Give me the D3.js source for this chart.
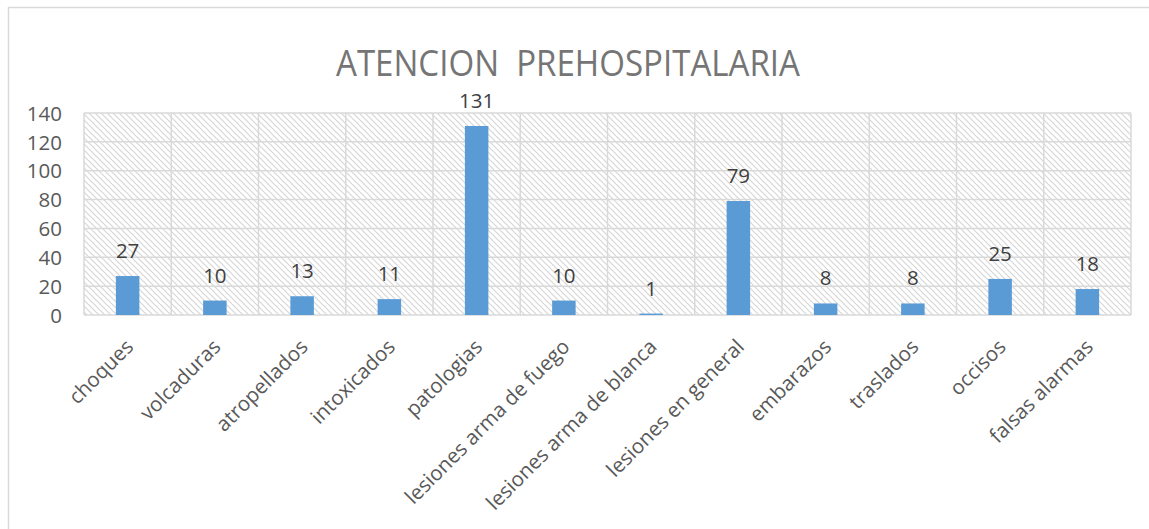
<!DOCTYPE html>
<html><head><meta charset="utf-8">
<script src="https://cdn.jsdelivr.net/npm/d3@7"></script>
<style>html,body{margin:0;padding:0;background:#fff;}svg{display:block;}</style>
</head><body>
<svg id="c" width="1149" height="529"></svg>
<script>
const categories = ["choques","volcaduras","atropellados","intoxicados","patologias","lesiones arma de fuego","lesiones arma de blanca","lesiones en general","embarazos","traslados","occisos","falsas alarmas"];
const values = [27,10,13,11,131,10,1,79,8,8,25,18];
const yTicks = [0,20,40,60,80,100,120,140];
const title = "ATENCION  PREHOSPITALARIA";

const svg = d3.select("#c");
const font = "'Open Sans', sans-serif";
const L = 84, R = 1131, T = 113, B = 315;

// chart frame (top and left edges)
svg.append("line").attr("x1",8).attr("x2",1149).attr("y1",7.5).attr("y2",7.5).attr("stroke","#d9d9d9").attr("stroke-width",1.5);
svg.append("line").attr("x1",8.5).attr("x2",8.5).attr("y1",7).attr("y2",529).attr("stroke","#d9d9d9").attr("stroke-width",1.5);

const defs = svg.append("defs");
const pat = defs.append("pattern").attr("id","hatch").attr("patternUnits","userSpaceOnUse").attr("width",6).attr("height",6);
pat.append("path").attr("d","M0,0 L6,6 M-1,5 L1,7 M5,-1 L7,1").attr("stroke","#d6d6d6").attr("stroke-width",1.2).attr("fill","none");

const x = d3.scaleBand().domain(categories).range([L,R]).padding(0);
const y = d3.scaleLinear().domain([0,140]).range([B,T]);

svg.append("rect").attr("x",L).attr("y",T).attr("width",R-L).attr("height",B-T).attr("fill","url(#hatch)");

// horizontal gridlines
svg.append("g").selectAll("line").data(yTicks).join("line")
  .attr("x1",L).attr("x2",R).attr("y1",d=>y(d)).attr("y2",d=>y(d))
  .attr("stroke","#d9d9d9").attr("stroke-width",1.5);
// vertical gridlines
const bounds = categories.map(c=>x(c)).concat([R]);
svg.append("g").selectAll("line").data(bounds).join("line")
  .attr("x1",d=>d).attr("x2",d=>d).attr("y1",T).attr("y2",B)
  .attr("stroke","#d9d9d9").attr("stroke-width",1.5);

// y axis labels
const yAxis = d3.axisLeft(y).tickValues(yTicks).tickSize(0).tickPadding(0);
const gy = svg.append("g").attr("transform",`translate(${62},0)`).call(yAxis);
gy.select(".domain").remove();
gy.selectAll("text").attr("font-family",font).attr("font-size",20.5).attr("fill","#595959").attr("dy","0.35em");

// bars
const bw = 23.5;
svg.append("g").selectAll("rect").data(values).join("rect")
  .attr("x",(d,i)=>x(categories[i])+x.bandwidth()/2-bw/2)
  .attr("width",bw)
  .attr("y",d=>y(d)).attr("height",d=>B-y(d))
  .attr("fill","#5b9bd5");

// data labels
svg.append("g").selectAll("text").data(values).join("text")
  .attr("x",(d,i)=>x(categories[i])+x.bandwidth()/2)
  .attr("y",d=>y(d)-18)
  .attr("text-anchor","middle").attr("font-family",font).attr("font-size",20.5).attr("fill","#404040")
  .text(d=>d);

// x axis labels
const xAxis = d3.axisBottom(x).tickSize(0).tickPadding(0);
const gx = svg.append("g").attr("transform",`translate(0,${B})`).call(xAxis);
gx.select(".domain").remove();
gx.selectAll("text")
  .attr("font-family",font).attr("font-size",20.5).attr("fill","#595959")
  .attr("text-anchor","end").attr("dy",null).attr("y",0)
  .attr("transform","translate(7,33) rotate(-45)");

// title
svg.append("text").attr("x",568).attr("y",75.5).attr("text-anchor","middle")
  .attr("font-family",font).attr("font-size",36).attr("fill","#757575")
  .style("white-space","pre")
  .attr("textLength",464).attr("lengthAdjust","spacingAndGlyphs").text(title);
</script>
</body></html>
